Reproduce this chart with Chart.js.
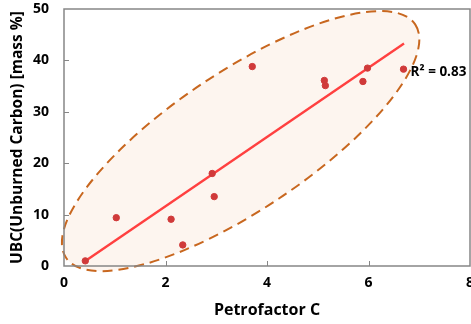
<!DOCTYPE html>
<html>
<head>
<meta charset="utf-8">
<script src="https://cdn.jsdelivr.net/npm/chart.js@4"></script>
<style>
  html, body { margin: 0; padding: 0; background: #fff; }
  #wrap { width: 471px; height: 324px; }
</style>
</head>
<body>
<div id="wrap"><canvas id="chart"></canvas></div>
<script>
// measured points
const petrofactor = [0.42, 1.03, 2.11, 2.34, 2.92, 2.96, 3.71, 5.13, 5.15, 5.89, 5.98, 6.69]
const ubc = [1.0, 9.4, 9.1, 4.1, 18.0, 13.5, 38.8, 36.1, 35.1, 35.9, 38.5, 38.3]

// linear trend line ends
const trendX = [0.42, 6.70]
const trendY = [0.97, 43.3]
const rSquared = '0.83'

// confidence ellipse (data units): centre, end of long axis, end of short axis
const ellipseCenter = [3.48, 24.3]
const ellipseMajorEnd = [6.92, 47.0]
const ellipseMinorEnd = [4.24, 13.15]

const xTicks = [0, 2, 4, 6, 8]
const yTicks = [0, 10, 20, 30, 40, 50]

const FONT = "'Open Sans', 'DejaVu Sans', sans-serif"
const AXIS_GRAY = '#868686'

const ellipsePlugin = {
  id: 'ellipse',
  beforeDatasetsDraw(chart) {
    const { ctx, scales: { x, y } } = chart
    const cx = x.getPixelForValue(ellipseCenter[0]), cy = y.getPixelForValue(ellipseCenter[1])
    const mx = x.getPixelForValue(ellipseMajorEnd[0]), my = y.getPixelForValue(ellipseMajorEnd[1])
    const nx = x.getPixelForValue(ellipseMinorEnd[0]), ny = y.getPixelForValue(ellipseMinorEnd[1])
    const a = Math.hypot(mx - cx, my - cy)
    const b = Math.hypot(nx - cx, ny - cy)
    const rot = Math.atan2(my - cy, mx - cx)
    ctx.save()
    ctx.beginPath()
    ctx.ellipse(cx, cy, a, b, rot, 0, Math.PI * 2)
    ctx.fillStyle = 'rgba(248, 225, 210, 0.35)'
    ctx.fill()
    ctx.setLineDash([10, 6])
    ctx.lineWidth = 2
    ctx.strokeStyle = '#c8671f'
    ctx.stroke()
    ctx.restore()
  }
}

const framePlugin = {
  id: 'frame',
  afterDraw(chart) {
    const { ctx, chartArea: ca, scales: { x, y } } = chart
    ctx.save()
    ctx.strokeStyle = AXIS_GRAY
    ctx.lineWidth = 1.5
    ctx.strokeRect(ca.left, ca.top, ca.right - ca.left, ca.bottom - ca.top)
    ctx.lineWidth = 1
    ctx.beginPath()
    xTicks.slice(1, -1).forEach(v => {
      const px = Math.round(x.getPixelForValue(v)) + 0.5
      ctx.moveTo(px, ca.bottom)
      ctx.lineTo(px, ca.bottom - 5)
    })
    yTicks.slice(1, -1).forEach(v => {
      const py = Math.round(y.getPixelForValue(v)) + 0.5
      ctx.moveTo(ca.left, py)
      ctx.lineTo(ca.left + 5, py)
    })
    ctx.stroke()

    // R² label next to the last point
    ctx.fillStyle = '#000'
    ctx.font = 'bold 13.5px ' + FONT
    ctx.textBaseline = 'middle'
    ctx.textAlign = 'left'
    ctx.fillText('R² = ' + rSquared, x.getPixelForValue(6.83), y.getPixelForValue(37.7))
    ctx.restore()
  }
}

new Chart(document.getElementById('chart'), {
  type: 'scatter',
  data: {
    datasets: [
      {
        label: 'UBC',
        data: petrofactor.map((v, i) => ({ x: v, y: ubc[i] })),
        backgroundColor: '#d03a3a',
        borderColor: '#d03a3a',
        pointRadius: 3.2,
        order: 1
      },
      {
        type: 'line',
        label: 'Trend',
        data: trendX.map((v, i) => ({ x: v, y: trendY[i] })),
        borderColor: '#ff4040',
        borderWidth: 2.4,
        pointRadius: 0,
        fill: false,
        order: 2
      }
    ]
  },
  options: {
    responsive: true,
    maintainAspectRatio: false,
    animation: false,
    layout: { autoPadding: false, padding: { top: 9, right: 1, left: 0, bottom: 0 } },
    plugins: {
      legend: { display: false },
      tooltip: { enabled: false }
    },
    scales: {
      x: {
        type: 'linear',
        min: 0,
        max: 8,
        afterBuildTicks: s => { s.ticks = xTicks.map(v => ({ value: v })) },
        afterFit: s => { s.height = 58; s.paddingLeft = 0; s.paddingRight = 0 },
        ticks: { color: '#000', font: { family: FONT, weight: 'bold', size: 14 }, padding: 9 },
        grid: { display: false, drawTicks: false },
        border: { display: false },
        title: {
          display: true,
          text: 'Petrofactor C',
          color: '#000',
          font: { family: FONT, weight: 'bold', size: 16 },
          padding: { top: 0, bottom: 4 }
        }
      },
      y: {
        min: 0,
        max: 50,
        afterBuildTicks: s => { s.ticks = yTicks.map(v => ({ value: v })) },
        afterFit: s => { s.width = 64; s.paddingTop = 0; s.paddingBottom = 0 },
        ticks: { color: '#000', font: { family: FONT, weight: 'bold', size: 14 }, padding: 15 },
        grid: { display: false, drawTicks: false },
        border: { display: false },
        title: {
          display: true,
          text: 'UBC(Unburned Carbon) [mass %]',
          color: '#000',
          font: { family: FONT, weight: 'bold', size: 15.5 },
          padding: { top: 8, bottom: 0 }
        }
      }
    }
  },
  plugins: [ellipsePlugin, framePlugin]
})
</script>
</body>
</html>
